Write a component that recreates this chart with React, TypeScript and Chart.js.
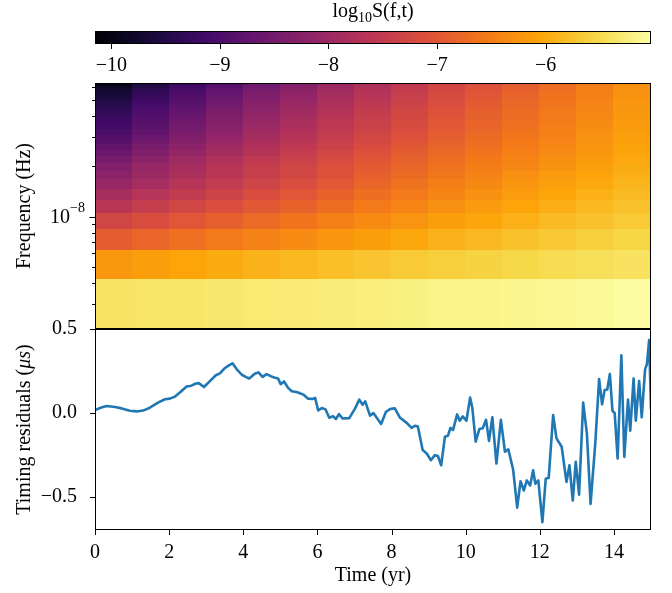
import { useEffect, useRef } from 'react';
import { Chart, registerables } from 'chart.js';

Chart.register(...registerables);

const W = 672;
const H = 593;
const SERIF = "'Liberation Serif', 'Times New Roman', serif";

// ---------------- data ----------------
const OBS_SPAN_YR = 15;
const SECONDS_PER_YR = 365.25 * 86400;
// frequency bin edges, in harmonics of 1/T
const HARMONIC_EDGES = [1, 2, 3, 4, 5, 6, 7, 8, 9, 10, 11, 12, 13, 14, 15, 16, 17, 18, 19, 20, 21, 22, 23, 24, 25, 26, 27, 28, 29, 30];
// time bin edges (yr)
const TIME_EDGES = [0, 1, 2, 3, 4, 5, 6, 7, 8, 9, 10, 11, 12, 13, 14, 15];
// log10 S(f,t): one row per frequency bin, bottom (lowest f) to top
const LOG_S = [
  [-5.39, -5.37, -5.35, -5.32, -5.30, -5.28, -5.26, -5.24, -5.21, -5.19, -5.17, -5.15, -5.12, -5.09, -5.05],
  [-6.20, -6.13, -6.06, -5.99, -5.93, -5.86, -5.80, -5.74, -5.68, -5.62, -5.58, -5.53, -5.48, -5.44, -5.40],
  [-6.92, -6.80, -6.67, -6.56, -6.45, -6.35, -6.24, -6.13, -6.03, -5.93, -5.85, -5.77, -5.69, -5.62, -5.55],
  [-7.30, -7.15, -7.01, -6.88, -6.75, -6.62, -6.49, -6.36, -6.25, -6.13, -6.04, -5.94, -5.84, -5.76, -5.68],
  [-7.62, -7.45, -7.29, -7.14, -6.99, -6.84, -6.70, -6.55, -6.42, -6.29, -6.18, -6.07, -5.96, -5.86, -5.77],
  [-7.86, -7.68, -7.50, -7.34, -7.17, -7.01, -6.85, -6.69, -6.55, -6.41, -6.28, -6.16, -6.04, -5.94, -5.84],
  [-8.05, -7.86, -7.66, -7.49, -7.32, -7.15, -6.98, -6.80, -6.65, -6.50, -6.37, -6.24, -6.12, -6.01, -5.90],
  [-8.20, -8.00, -7.80, -7.62, -7.44, -7.26, -7.08, -6.90, -6.74, -6.58, -6.45, -6.31, -6.18, -6.06, -5.95],
  [-8.33, -8.08, -7.86, -7.65, -7.46, -7.29, -7.11, -6.96, -6.80, -6.65, -6.51, -6.39, -6.26, -6.13, -5.99],
  [-8.45, -8.20, -7.96, -7.75, -7.55, -7.37, -7.19, -7.02, -6.86, -6.70, -6.56, -6.43, -6.30, -6.17, -6.02],
  [-8.60, -8.33, -8.09, -7.86, -7.66, -7.47, -7.27, -7.10, -6.93, -6.76, -6.62, -6.48, -6.35, -6.20, -6.05],
  [-8.72, -8.44, -8.19, -7.95, -7.74, -7.55, -7.35, -7.17, -6.99, -6.82, -6.67, -6.53, -6.39, -6.24, -6.08],
  [-8.83, -8.54, -8.28, -8.04, -7.82, -7.62, -7.41, -7.23, -7.04, -6.86, -6.71, -6.56, -6.42, -6.26, -6.10],
  [-8.93, -8.64, -8.37, -8.12, -7.89, -7.68, -7.47, -7.28, -7.09, -6.91, -6.74, -6.60, -6.45, -6.29, -6.12],
  [-9.02, -8.72, -8.44, -8.19, -7.95, -7.74, -7.52, -7.33, -7.13, -6.95, -6.78, -6.63, -6.48, -6.31, -6.14],
  [-9.09, -8.78, -8.50, -8.24, -8.01, -7.79, -7.57, -7.37, -7.17, -6.98, -6.81, -6.66, -6.50, -6.34, -6.16],
  [-9.15, -8.84, -8.55, -8.29, -8.05, -7.82, -7.60, -7.40, -7.20, -7.00, -6.83, -6.68, -6.52, -6.35, -6.17],
  [-9.20, -8.88, -8.60, -8.33, -8.09, -7.86, -7.64, -7.43, -7.23, -7.03, -6.86, -6.70, -6.54, -6.37, -6.19],
  [-9.26, -8.94, -8.65, -8.37, -8.13, -7.90, -7.67, -7.46, -7.26, -7.06, -6.88, -6.72, -6.56, -6.38, -6.20],
  [-9.32, -8.99, -8.70, -8.42, -8.17, -7.94, -7.70, -7.49, -7.28, -7.08, -6.90, -6.74, -6.57, -6.40, -6.21],
  [-9.38, -9.05, -8.75, -8.46, -8.21, -7.97, -7.74, -7.52, -7.31, -7.10, -6.92, -6.76, -6.59, -6.41, -6.22],
  [-9.44, -9.10, -8.80, -8.51, -8.25, -8.01, -7.77, -7.56, -7.34, -7.13, -6.94, -6.78, -6.61, -6.42, -6.23],
  [-9.50, -9.16, -8.85, -8.56, -8.29, -8.05, -7.81, -7.59, -7.37, -7.15, -6.96, -6.79, -6.62, -6.44, -6.24],
  [-9.56, -9.21, -8.90, -8.60, -8.34, -8.09, -7.84, -7.62, -7.39, -7.18, -6.99, -6.81, -6.64, -6.45, -6.25],
  [-9.62, -9.27, -8.95, -8.65, -8.38, -8.13, -7.87, -7.65, -7.42, -7.20, -7.01, -6.83, -6.65, -6.46, -6.26],
  [-9.68, -9.32, -9.00, -8.69, -8.42, -8.16, -7.91, -7.68, -7.45, -7.23, -7.03, -6.85, -6.67, -6.48, -6.27],
  [-9.74, -9.38, -9.05, -8.74, -8.46, -8.20, -7.94, -7.71, -7.47, -7.25, -7.05, -6.87, -6.69, -6.49, -6.28],
  [-9.82, -9.45, -9.11, -8.80, -8.51, -8.25, -7.98, -7.75, -7.51, -7.28, -7.07, -6.89, -6.70, -6.50, -6.29],
  [-9.95, -9.57, -9.22, -8.89, -8.60, -8.33, -8.05, -7.81, -7.56, -7.32, -7.11, -6.92, -6.73, -6.52, -6.30],
];
const CBAR_MIN = -10.15;
const CBAR_MAX = -5.03;
const CBAR_TICKS = [-10, -9, -8, -7, -6];
const FREQ_LABEL_TICKS = [1e-8];

const TIMES = [
  0.0, 0.15, 0.31, 0.54, 0.72, 0.94, 1.12, 1.3, 1.48, 1.71, 1.89, 2.02, 2.16, 2.29, 2.47, 2.6, 2.72, 2.8, 2.94, 3.1,
  3.26, 3.37, 3.49, 3.6, 3.71, 3.82, 3.96, 4.08, 4.16, 4.32, 4.41, 4.52, 4.63, 4.74, 4.83, 4.94, 5.01, 5.1, 5.21, 5.31,
  5.46, 5.62, 5.75, 5.87, 5.94, 6.02, 6.12, 6.22, 6.32, 6.42, 6.5, 6.58, 6.68, 6.86, 7.01, 7.13, 7.22, 7.29, 7.42, 7.51,
  7.72, 7.85, 7.96, 8.09, 8.23, 8.41, 8.54, 8.63, 8.71, 8.84, 8.95, 9.06, 9.17, 9.25, 9.34, 9.44, 9.52, 9.59, 9.66, 9.77,
  9.84, 9.92, 10.02, 10.12, 10.18, 10.27, 10.37, 10.46, 10.55, 10.63, 10.72, 10.83, 10.95, 11.06, 11.15, 11.28, 11.39, 11.48, 11.57, 11.65,
  11.74, 11.82, 11.88, 11.96, 12.07, 12.16, 12.24, 12.36, 12.45, 12.59, 12.72, 12.8, 12.89, 12.97, 13.06, 13.17, 13.27, 13.37, 13.5, 13.6,
  13.68, 13.75, 13.82, 13.89, 13.96, 14.02, 14.1, 14.2, 14.28, 14.38, 14.44, 14.53, 14.59, 14.68, 14.75, 14.84, 14.89, 14.95, 15.0,
];
const RESIDUALS = [
  0.018, 0.032, 0.042, 0.036, 0.028, 0.014, 0.01, 0.015, 0.032, 0.064, 0.082, 0.086, 0.098, 0.122, 0.158, 0.163, 0.176, 0.178, 0.155, 0.19,
  0.225, 0.236, 0.265, 0.282, 0.296, 0.262, 0.228, 0.214, 0.206, 0.236, 0.242, 0.215, 0.232, 0.22, 0.212, 0.205, 0.172, 0.188, 0.15, 0.13,
  0.124, 0.11, 0.086, 0.084, 0.09, 0.016, 0.03, 0.022, -0.028, -0.018, -0.035, -0.006, -0.032, -0.03, 0.025, 0.08, 0.05, 0.07, -0.015, 0.0,
  -0.065, 0.008, 0.024, 0.028, -0.028, -0.058, -0.088, -0.075, -0.08, -0.22, -0.24, -0.28, -0.25, -0.255, -0.31, -0.14, -0.135, -0.088, -0.1, -0.008,
  -0.045, -0.02, -0.045, 0.092, 0.03, -0.17, -0.095, -0.09, -0.04, -0.165, -0.025, -0.3, -0.04, -0.23, -0.215, -0.335, -0.562, -0.405, -0.46, -0.4,
  -0.43, -0.34, -0.42, -0.4, -0.648, -0.39, -0.385, -0.012, -0.15, -0.2, -0.41, -0.31, -0.52, -0.29, -0.485, 0.062, -0.12, -0.54, -0.17, 0.203,
  0.052, 0.137, 0.14, 0.233, 0.014, 0.0, -0.27, 0.343, -0.26, 0.08, -0.105, 0.205, -0.045, 0.19, -0.025, 0.26, 0.29, 0.435, 0.022,
];
const TIME_TICKS = [0, 2, 4, 6, 8, 10, 12, 14];
const RES_TICKS = [-0.5, 0, 0.5];
const RES_MIN = -0.695;
const RES_MAX = 0.5;

// ---------------- layout ----------------
const PLOT_LEFT = 95;
const PLOT_RIGHT = 651;
const CBAR_TOP = 31;
const CBAR_BOTTOM = 44;
const HM_TOP = 83;
const HM_BOTTOM = 329;
const LN_BOTTOM = 530;

const F_BASE = 1 / (OBS_SPAN_YR * SECONDS_PER_YR);

const INFERNO = [
  [0, 0, 4], [22, 11, 57], [66, 10, 104], [106, 23, 110], [147, 38, 103], [188, 55, 84],
  [221, 81, 58], [243, 120, 25], [252, 165, 10], [246, 215, 70], [252, 255, 164],
];
function inferno(t: number) {
  const c = Math.max(0, Math.min(1, t)) * 10;
  const i = Math.min(9, Math.floor(c));
  const f = c - i;
  const a = INFERNO[i], b = INFERNO[i + 1];
  const m = (k: number) => Math.round(a[k] + (b[k] - a[k]) * f);
  return `rgb(${m(0)},${m(1)},${m(2)})`;
}
const cnorm = (v: number) => (v - CBAR_MIN) / (CBAR_MAX - CBAR_MIN);
const fmtMinus = (v: number, d: number) => (v < 0 ? '\u2212' : '') + Math.abs(v).toFixed(d);

function drawFrame(ctx: any, a: any) {
  ctx.save();
  ctx.strokeStyle = '#000';
  ctx.lineWidth = 1;
  ctx.strokeRect(Math.round(a.left) + 0.5, Math.round(a.top) + 0.5, Math.round(a.right - a.left) - 1, Math.round(a.bottom - a.top) - 1);
  ctx.restore();
}
function xTickMarks(ctx: any, scale: any, values: number[], y: number, len: number) {
  ctx.save();
  ctx.strokeStyle = '#000';
  ctx.lineWidth = 1;
  ctx.beginPath();
  for (const v of values) {
    const p = Math.round(scale.getPixelForValue(v)) + 0.5;
    ctx.moveTo(p, y);
    ctx.lineTo(p, y + len);
  }
  ctx.stroke();
  ctx.restore();
}
function yTickMark(ctx: any, scale: any, v: number, x: number, len: number) {
  const p = Math.round(scale.getPixelForValue(v)) + 0.5;
  ctx.save();
  ctx.strokeStyle = '#000';
  ctx.lineWidth = 1;
  ctx.beginPath();
  ctx.moveTo(x, p);
  ctx.lineTo(x - len, p);
  ctx.stroke();
  ctx.restore();
}

const colorbarPlugin = {
  id: 'colorbarPlugin',
  afterDraw(chart: any) {
    const { ctx, chartArea: a } = chart;
    const x = chart.scales.x;
    for (let px = Math.round(a.left); px < Math.round(a.right); px++) {
      const v = x.getValueForPixel(px + 0.5);
      ctx.fillStyle = inferno(cnorm(v));
      ctx.fillRect(px, a.top, 1, a.bottom - a.top);
    }
    drawFrame(ctx, a);
    xTickMarks(ctx, x, CBAR_TICKS, Math.round(a.bottom), 5);
    ctx.save();
    ctx.fillStyle = '#000';
    ctx.textBaseline = 'middle';
    ctx.textAlign = 'left';
    const big = `20px ${SERIF}`;
    const small = `14px ${SERIF}`;
    ctx.font = big;
    const w1 = ctx.measureText('log').width;
    const w3 = ctx.measureText('S(f,t)').width;
    ctx.font = small;
    const w2 = ctx.measureText('10').width;
    const x0 = (a.left + a.right) / 2 - (w1 + w2 + w3) / 2;
    const y0 = 12;
    ctx.font = big;
    ctx.fillText('log', x0, y0);
    ctx.font = small;
    ctx.fillText('10', x0 + w1, y0 + 6);
    ctx.font = big;
    ctx.fillText('S(f,t)', x0 + w1 + w2, y0);
    ctx.restore();
  },
};

const heatmapPlugin = {
  id: 'heatmapPlugin',
  afterDraw(chart: any) {
    const { ctx, chartArea: a } = chart;
    const x = chart.scales.x;
    const y = chart.scales.y;
    ctx.save();
    ctx.beginPath();
    ctx.rect(a.left, a.top, a.right - a.left, a.bottom - a.top);
    ctx.clip();
    LOG_S.forEach((row, i) => {
      const yTop = y.getPixelForValue(HARMONIC_EDGES[i + 1] * F_BASE);
      const yBot = y.getPixelForValue(HARMONIC_EDGES[i] * F_BASE);
      row.forEach((v, j) => {
        const x0 = x.getPixelForValue(TIME_EDGES[j]);
        const x1 = x.getPixelForValue(TIME_EDGES[j + 1]);
        ctx.fillStyle = inferno(cnorm(v));
        ctx.fillRect(Math.floor(x0), Math.floor(yTop), Math.ceil(x1) - Math.floor(x0), Math.ceil(yBot) - Math.floor(yTop));
      });
    });
    ctx.restore();
    drawFrame(ctx, a);
    // log ticks: major at decades, minor elsewhere
    const lo = y.min * 1.0001, hi = y.max * 0.9999;
    for (const t of y.ticks) {
      const v = t.value;
      if (v <= lo || v >= hi) continue;
      const e = Math.log10(v);
      const sig = v / Math.pow(10, Math.floor(e + 1e-9));
      if (Math.abs(sig - Math.round(sig)) > 1e-6) continue;
      const major = Math.abs(e - Math.round(e)) < 1e-6;
      yTickMark(ctx, y, v, Math.round(a.left), major ? 5.5 : 3);
    }
    ctx.save();
    ctx.fillStyle = '#000';
    ctx.textBaseline = 'middle';
    ctx.textAlign = 'left';
    for (const v of FREQ_LABEL_TICKS) {
      const p = y.getPixelForValue(v);
      const exp = Math.round(Math.log10(v));
      const sup = fmtMinus(exp, 0);
      ctx.font = `20px ${SERIF}`;
      const wb = ctx.measureText('10').width;
      ctx.font = `14px ${SERIF}`;
      const ws = ctx.measureText(sup).width;
      const right = a.left - 10;
      ctx.font = `20px ${SERIF}`;
      ctx.fillText('10', right - ws - wb, p + 1);
      ctx.font = `14px ${SERIF}`;
      ctx.fillText(sup, right - ws, p - 8);
    }
    ctx.restore();
  },
};

const linePlugin = {
  id: 'linePlugin',
  afterDraw(chart: any) {
    const { ctx, chartArea: a } = chart;
    drawFrame(ctx, a);
    xTickMarks(ctx, chart.scales.x, TIME_TICKS, Math.round(a.bottom), 5);
    for (const v of RES_TICKS) yTickMark(ctx, chart.scales.y, v, Math.round(a.left), 5);
    // y-axis title with italic unit
    ctx.save();
    ctx.fillStyle = '#000';
    ctx.textBaseline = 'middle';
    ctx.textAlign = 'left';
    const n = `20px ${SERIF}`;
    const it = `italic 20px ${SERIF}`;
    const parts: [string, string][] = [['Timing residuals (', n], ['\u03bcs', it], [')', n]];
    let total = 0;
    const widths = parts.map(([s, f]) => { ctx.font = f; const w = ctx.measureText(s).width; total += w; return w; });
    ctx.translate(25, (a.top + a.bottom) / 2);
    ctx.rotate(-Math.PI / 2);
    let cx = -total / 2;
    parts.forEach(([s, f], i) => { ctx.font = f; ctx.fillText(s, cx, 0); cx += widths[i]; });
    ctx.restore();
  },
};

export default function App() {
  const cbRef = useRef<HTMLCanvasElement>(null);
  const hmRef = useRef<HTMLCanvasElement>(null);
  const lnRef = useRef<HTMLCanvasElement>(null);

  useEffect(() => {
    Chart.defaults.font.family = SERIF;
    Chart.defaults.font.size = 20;
    Chart.defaults.color = '#000';
    const common: any = {
      animation: false,
      responsive: false,
      devicePixelRatio: 1,
      events: [],
      plugins: { legend: { display: false }, tooltip: { enabled: false } },
    };

    const cb = new Chart(cbRef.current as HTMLCanvasElement, {
      type: 'scatter',
      data: { datasets: [{ data: [] }] },
      options: {
        ...common,
        layout: { padding: { top: CBAR_TOP, left: PLOT_LEFT, right: W - PLOT_RIGHT, bottom: 0 } },
        scales: {
          x: {
            type: 'linear', position: 'bottom', min: CBAR_MIN, max: CBAR_MAX,
            grid: { display: false }, border: { display: false },
            afterBuildTicks: (s: any) => { s.ticks = CBAR_TICKS.map((value) => ({ value })); },
            afterFit: (s: any) => { s.height = H - CBAR_BOTTOM; },
            ticks: { padding: 2, maxRotation: 0, autoSkip: false, callback: (v: any) => fmtMinus(Number(v), 0) },
          },
          y: { display: false },
        },
      } as any,
      plugins: [colorbarPlugin],
    });

    const hm = new Chart(hmRef.current as HTMLCanvasElement, {
      type: 'scatter',
      data: { datasets: [{ data: [] }] },
      options: {
        ...common,
        layout: { padding: { top: HM_TOP, left: 0, right: W - PLOT_RIGHT, bottom: H - HM_BOTTOM } },
        scales: {
          x: { type: 'linear', min: TIME_EDGES[0], max: TIME_EDGES[TIME_EDGES.length - 1], display: false },
          y: {
            type: 'logarithmic', position: 'left',
            min: HARMONIC_EDGES[0] * F_BASE, max: HARMONIC_EDGES[HARMONIC_EDGES.length - 1] * F_BASE,
            grid: { display: false }, border: { display: false },
            ticks: { display: false },
            title: { display: true, text: 'Frequency (Hz)', padding: { top: 13, bottom: 0 } },
            afterFit: (s: any) => { s.width = PLOT_LEFT; },
          },
        },
      } as any,
      plugins: [heatmapPlugin],
    });

    const ln = new Chart(lnRef.current as HTMLCanvasElement, {
      type: 'scatter',
      data: {
        datasets: [{
          data: TIMES.map((t, i) => ({ x: t, y: RESIDUALS[i] })),
          showLine: true,
          borderColor: '#1f77b4',
          borderWidth: 2.6,
          borderJoinStyle: 'round',
          pointRadius: 0,
          tension: 0,
        }],
      },
      options: {
        ...common,
        layout: { padding: { top: HM_BOTTOM, left: 0, right: W - PLOT_RIGHT, bottom: 0 } },
        scales: {
          x: {
            type: 'linear', min: 0, max: 15,
            grid: { display: false }, border: { display: false },
            afterBuildTicks: (s: any) => { s.ticks = TIME_TICKS.map((value) => ({ value })); },
            afterFit: (s: any) => { s.height = H - LN_BOTTOM; },
            ticks: { padding: 3, maxRotation: 0, autoSkip: false, callback: (v: any) => String(v) },
            title: { display: true, text: 'Time (yr)', padding: { top: 0, bottom: 5 } },
          },
          y: {
            type: 'linear', min: RES_MIN, max: RES_MAX,
            grid: { display: false }, border: { display: false },
            afterBuildTicks: (s: any) => { s.ticks = RES_TICKS.map((value) => ({ value })); },
            afterFit: (s: any) => { s.width = PLOT_LEFT; },
            ticks: { padding: 10, autoSkip: false, callback: (v: any) => fmtMinus(Number(v), 1) },
          },
        },
      } as any,
      plugins: [linePlugin],
    });

    return () => { cb.destroy(); hm.destroy(); ln.destroy(); };
  }, []);

  const cs: any = { position: 'absolute', left: 0, top: 0 };
  return (
    <div style={{ position: 'fixed', left: 0, top: 0, width: W, height: H, background: '#fff' }}>
      <canvas ref={cbRef} width={W} height={H} style={cs} />
      <canvas ref={hmRef} width={W} height={H} style={cs} />
      <canvas ref={lnRef} width={W} height={H} style={cs} />
    </div>
  );
}
